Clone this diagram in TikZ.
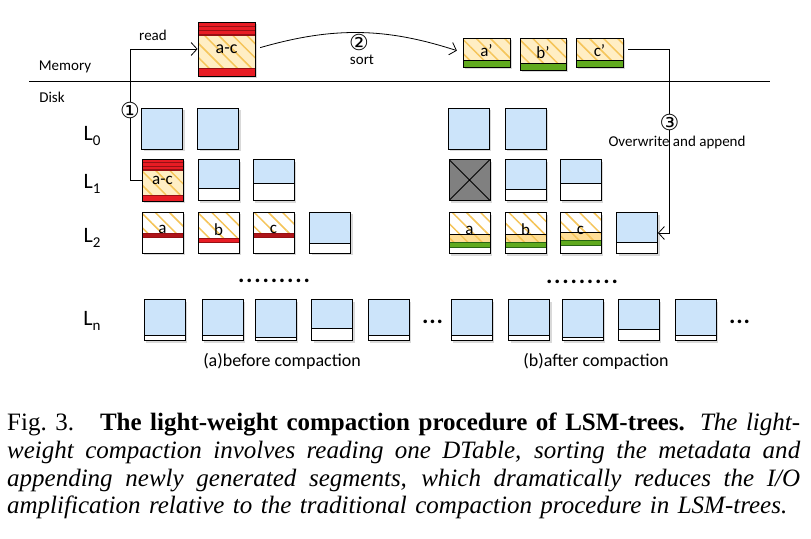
\documentclass[tikz,border=0pt]{standalone}
\usepackage{fontspec}
\setmainfont{Carlito}
\newfontfamily\capfont{Liberation Serif}
\newfontfamily\symfont{DejaVu Sans}
\usetikzlibrary{arrows.meta,patterns.meta,shadows}

\definecolor{skyblue}{RGB}{204,228,250}
\definecolor{hotred}{RGB}{232,28,36}
\definecolor{deepred}{RGB}{150,16,20}
\definecolor{paleyel}{RGB}{255,238,196}
\definecolor{hatchyel}{RGB}{245,196,88}
\definecolor{segyel}{RGB}{255,222,150}
\definecolor{leaf}{RGB}{96,170,30}
\definecolor{deepleaf}{RGB}{40,100,20}
\definecolor{tomb}{RGB}{128,128,128}

\newcommand{\bbx}{path picture bounding box}
\newcommand{\levl}[1]{L\raisebox{-4.5pt}{\fontsize{15}{15}\selectfont #1}}

\tikzset{
  blk/.style={draw,line width=.8pt,inner sep=0pt,minimum width=41pt,minimum height=41pt,
    drop shadow={shadow xshift=2pt,shadow yshift=-2pt,opacity=.3}},
  hatch/.style={pattern={Lines[angle=-45,distance=10pt,line width=1.5pt]},pattern color=hatchyel},
  % blue block, white part of #1 pt at the bottom
  freeblk/.style={blk,fill=skyblue,path picture={
    \fill[white] (\bbx.south west) rectangle ([yshift=#1pt]\bbx.south east);
    \draw[line width=.8pt] ([yshift=#1pt]\bbx.south west) -- ([yshift=#1pt]\bbx.south east);}},
  % DTable read into memory: #1 top stripes, #2 bottom band
  acblk/.style 2 args={blk,fill=paleyel,path picture={
    \path[hatch] (\bbx.south west) rectangle (\bbx.north east);
    \fill[hotred] (\bbx.north west) rectangle ([yshift=-#1pt]\bbx.north east);
    \fill[hotred] (\bbx.south west) rectangle ([yshift=#2pt]\bbx.south east);
    \foreach \f in {0.33,0.67,1}
      \draw[deepred,line width=1.4pt] ([yshift=-#1pt*\f]\bbx.north west) -- ([yshift=-#1pt*\f]\bbx.north east);
    \draw[deepred,line width=1pt] ([yshift=#2pt]\bbx.south west) -- ([yshift=#2pt]\bbx.south east);}},
  % old segment: band #1 pt below the top, filled #2
  oldseg/.style 2 args={blk,fill=white,path picture={
    \path[hatch] (\bbx.north west) rectangle ([yshift=-#1pt]\bbx.north east);
    \fill[#2] ([yshift=-#1pt]\bbx.north west) rectangle ([yshift=-#1pt-4pt]\bbx.north east);
    \draw[deepred,line width=.8pt] ([yshift=-#1pt]\bbx.north west) -- ([yshift=-#1pt]\bbx.north east)
      ([yshift=-#1pt-4pt]\bbx.north west) -- ([yshift=-#1pt-4pt]\bbx.north east);}},
  % segment after append
  newseg/.style={blk,fill=white,path picture={
    \fill[segyel] ([yshift=-#1pt]\bbx.north west) rectangle ([yshift=-#1pt-8pt]\bbx.north east);
    \path[hatch] (\bbx.north west) rectangle ([yshift=-#1pt-8pt]\bbx.north east);
    \fill[leaf] ([yshift=-#1pt-8pt]\bbx.north west) rectangle ([yshift=-#1pt-13pt]\bbx.north east);
    \draw[line width=.6pt] ([yshift=-#1pt]\bbx.north west) -- ([yshift=-#1pt]\bbx.north east);
    \draw[deepleaf,line width=1pt] ([yshift=-#1pt-8pt]\bbx.north west) -- ([yshift=-#1pt-8pt]\bbx.north east)
      ([yshift=-#1pt-13pt]\bbx.north west) -- ([yshift=-#1pt-13pt]\bbx.north east);}},
  memseg/.style={blk,fill=paleyel,minimum width=47pt,minimum height=29pt,path picture={
    \path[hatch] (\bbx.south west) rectangle (\bbx.north east);
    \fill[leaf] (\bbx.south west) rectangle ([yshift=7pt]\bbx.south east);
    \draw[line width=.8pt] ([yshift=7pt]\bbx.south west) -- ([yshift=7pt]\bbx.south east);}},
  gone/.style={blk,fill=tomb,path picture={
    \draw[line width=.8pt] (\bbx.north west) -- (\bbx.south east) (\bbx.south west) -- (\bbx.north east);}},
}

\begin{document}
\begin{tikzpicture}[x=1pt,y=-1pt,
    flow/.style={line width=.8pt,-{Straight Barb[length=6pt,width=13pt]}},
    tag/.style={font=\fontsize{15}{15}\selectfont},
    num/.style={fill=white,inner sep=0pt,font=\symfont\fontsize{22}{22}\selectfont},
    lvl/.style={font=\fontsize{22}{22}\selectfont},
    dots/.style={anchor=base,inner sep=0pt,font=\bfseries\fontsize{24}{24}\selectfont}]
  \useasboundingbox (0,0) rectangle (811,538);

  % memory / disk
  \coordinate (sl) at (29,81);
  \coordinate (sr) at (770,81);
  \draw[line width=.8pt] (sl) -- (sr);
  \node[tag] (mem) at (65,67) {Memory};
  \node[tag] (disk) at (52,97) {Disk};

  \node[acblk={13}{8},minimum width=57pt,minimum height=54pt,font=\fontsize{18}{18}\selectfont] (mac) at (226.5,49) {a-c};
  \begin{scope}[every node/.style={font=\fontsize{17}{17}\selectfont}]
    \node[memseg] (ma) at (486.5,52.5) {\raisebox{3pt}{a’}};
    \node[memseg,minimum width=46pt,minimum height=32pt] (mb) at (543,54) {\raisebox{3pt}{b’}};
    \node[memseg] (mc) at (599.5,52.5) {\raisebox{3pt}{c’}};
  \end{scope}

  % levels
  \node[lvl] (l0) at (92,136) {\levl{0}};
  \node[lvl] (l1) at (92,184) {\levl{1}};
  \node[lvl] (l2) at (92,238) {\levl{2}};
  \node[lvl] (ln) at (92,321) {\levl{n}};

  % (a) before compaction
  \begin{scope}[every node/.style={font=\fontsize{17}{17}\selectfont}]
    \node[blk,fill=skyblue] (a01) at (162,128.5) {};
    \node[blk,fill=skyblue] (a02) at (218,128.5) {};
    \node[acblk={11}{6},minimum height=42pt] (a11) at (162.5,180) {a-c};
    \node[freeblk=12] (a12) at (218.5,180) {};
    \node[freeblk=17] (a13) at (273.5,180) {};
    \node[oldseg={21}{deepred!70!hotred}] (a21) at (162.5,232.5) {\raisebox{6pt}{a}};
    \node[oldseg={26}{hotred}] (a22) at (218.5,232.5) {\raisebox{6pt}{b}};
    \node[oldseg={21}{deepred!70!hotred}] (a23) at (273.5,232.5) {\raisebox{6pt}{c}};
    \node[freeblk=10] (a24) at (330,232.5) {};
    \node[freeblk=5] (an1) at (164.5,320) {};
    \node[freeblk=5] (an2) at (222.5,320) {};
    \node[freeblk=3] (an3) at (275.5,320) {};
    \node[freeblk=12] (an4) at (332,320) {};
    \node[freeblk=5] (an5) at (388.5,320) {};
  \end{scope}

  % (b) after compaction
  \begin{scope}[every node/.style={font=\fontsize{17}{17}\selectfont}]
    \node[blk,fill=skyblue] (b01) at (468.5,128.5) {};
    \node[blk,fill=skyblue] (b02) at (525.5,128.5) {};
    \node[gone] (b11) at (469.5,180) {};
    \node[freeblk=11] (b12) at (525.5,180) {};
    \node[freeblk=17] (b13) at (580.5,180) {};
    \node[newseg=22] (b21) at (469.5,233) {\raisebox{6pt}{a}};
    \node[newseg=22] (b22) at (525.5,233) {\raisebox{6pt}{b}};
    \node[newseg=20] (b23) at (580.5,233) {\raisebox{6pt}{c}};
    \node[freeblk=11] (b24) at (637,233) {};
    \node[freeblk=5] (bn1) at (471.5,320) {};
    \node[freeblk=5] (bn2) at (529,320) {};
    \node[freeblk=3] (bn3) at (582.5,320) {};
    \node[freeblk=11] (bn4) at (638.5,320) {};
    \node[freeblk=5] (bn5) at (695.5,320) {};
  \end{scope}

  \node[dots] (ad) at (274,282.5) {\makebox[72pt][s]{.\hfil.\hfil.\hfil.\hfil.\hfil.\hfil.\hfil.\hfil.}};
  \node[dots] (bd) at (582,283) {\makebox[72pt][s]{.\hfil.\hfil.\hfil.\hfil.\hfil.\hfil.\hfil.\hfil.}};
  \node[dots] (ae) at (432.5,323) {\makebox[21pt][s]{.\hfil.\hfil.}};
  \node[dots] (be) at (739.5,323) {\makebox[21pt][s]{.\hfil.\hfil.}};

  % steps
  \coordinate (rd) at (130,180);
  \draw[flow] (a11.west) -- (rd) |- (mac.west);
  \draw[flow,shorten <=5pt,shorten >=6pt] (mac.east) to[bend left=17] (ma.west);
  \coordinate (ow) at (669,49.5);
  \draw[flow,shorten <=5pt] ([yshift=3pt]mc.east) -- (ow) |- (b24.east);

  \node[tag] (read) at (153,35) {read};
  \node[tag] (sort) at (362,60) {sort};
  \node[tag] (ovw) at (677,142) {Overwrite and append};
  \node[num] (n1) at (130,110) {①};
  \node[num] (n2) at (359,42) {②};
  \node[num] (n3) at (669.5,122) {③};

  \node[font=\fontsize{18}{18}\selectfont] (capa) at (282,361) {(a)before compaction};
  \node[font=\fontsize{18}{18}\selectfont] (capb) at (596,361) {(b)after compaction};

  % caption
  \node[anchor=north west,inner sep=0pt,align=left,font=\capfont\fontsize{25}{27.7}\selectfont] (cap) at (7,413) {%
    \makebox[793pt][s]{Fig.~3.\hspace{26pt}\textbf{The light-weight compaction procedure of LSM-trees.} \textit{The light-}}\\
    \makebox[793pt][s]{\itshape weight compaction involves reading one DTable, sorting the metadata and}\\
    \makebox[793pt][s]{\itshape appending newly generated segments, which dramatically reduces the I/O}\\
    \makebox[780pt][s]{\itshape amplification relative to the traditional compaction procedure in LSM-trees.}};
\end{tikzpicture}
\end{document}
